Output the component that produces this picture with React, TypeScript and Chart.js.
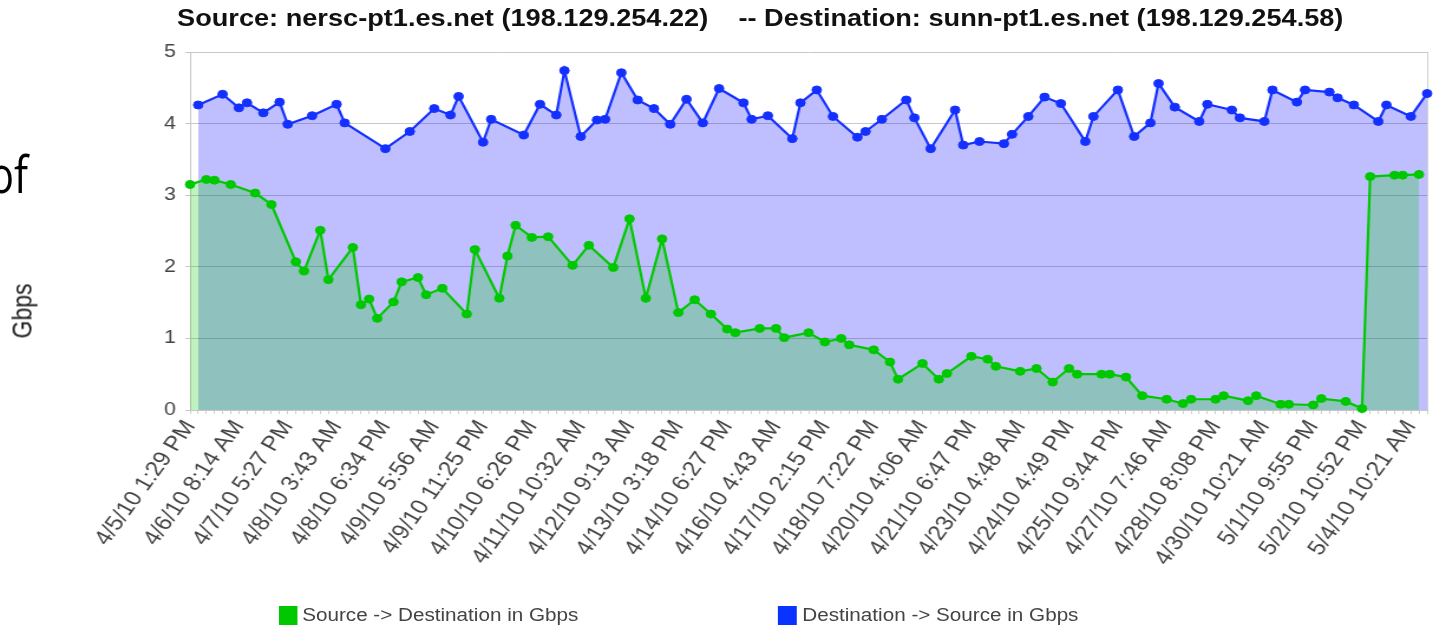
import { useEffect, useRef } from "react";
import { Chart, registerables } from "chart.js";

Chart.register(...registerables);

const tickLabels = [
  "4/5/10 1:29 PM", "4/6/10 8:14 AM", "4/7/10 5:27 PM", "4/8/10 3:43 AM", "4/8/10 6:34 PM",
  "4/9/10 5:56 AM", "4/9/10 11:25 PM", "4/10/10 6:26 PM", "4/11/10 10:32 AM", "4/12/10 9:13 AM",
  "4/13/10 3:18 PM", "4/14/10 6:27 PM", "4/16/10 4:43 AM", "4/17/10 2:15 PM", "4/18/10 7:22 PM",
  "4/20/10 4:06 AM", "4/21/10 6:47 PM", "4/23/10 4:48 AM", "4/24/10 4:49 PM", "4/25/10 9:44 PM",
  "4/27/10 7:46 AM", "4/28/10 8:08 PM", "4/30/10 10:21 AM", "5/1/10 9:55 PM", "5/2/10 10:52 PM",
  "5/4/10 10:21 AM",
];
const categoryCount = 153;
const labelEvery = 6;
const yTicks = [0, 1, 2, 3, 4, 5];

// Source -> Destination (green): category index and Gbps
const greenIdx = [
  0, 2, 3, 5, 8, 10, 13, 14, 16, 17,
  20, 21, 22, 23, 25, 26, 28, 29, 31, 34,
  35, 38, 39, 40, 42, 44, 47, 49, 52, 54,
  56, 58, 60, 62, 64, 66, 67, 70, 72, 73,
  76, 78, 80, 81, 84, 86, 87, 90, 92, 93,
  96, 98, 99, 102, 104, 106, 108, 109, 112, 113,
  115, 117, 120, 122, 123, 126, 127, 130, 131, 134,
  135, 138, 139, 142, 144, 145, 148, 149, 151,
];
const greenVal = [
  3.15, 3.22, 3.21, 3.15, 3.03, 2.87, 2.07, 1.94, 2.51, 1.82,
  2.27, 1.47, 1.55, 1.28, 1.51, 1.79, 1.85, 1.61, 1.70, 1.34,
  2.24, 1.56, 2.15, 2.58, 2.41, 2.42, 2.02, 2.30, 1.99, 2.67,
  1.56, 2.39, 1.36, 1.54, 1.34, 1.13, 1.08, 1.14, 1.14, 1.01,
  1.08, 0.95, 1.00, 0.91, 0.84, 0.67, 0.43, 0.65, 0.43, 0.51,
  0.75, 0.71, 0.61, 0.54, 0.58, 0.39, 0.58, 0.50, 0.50, 0.50,
  0.46, 0.20, 0.15, 0.09, 0.15, 0.15, 0.20, 0.13, 0.20, 0.08,
  0.08, 0.07, 0.16, 0.12, 0.02, 3.26, 3.28, 3.28, 3.29,
];

// Destination -> Source (blue): category index and Gbps
const blueIdx = [
  1, 4, 6, 7, 9, 11, 12, 15, 18, 19,
  24, 27, 30, 32, 33, 36, 37, 41, 43, 45,
  46, 48, 50, 51, 53, 55, 57, 59, 61, 63,
  65, 68, 69, 71, 74, 75, 77, 79, 82, 83,
  85, 88, 89, 91, 94, 95, 97, 100, 101, 103,
  105, 107, 110, 111, 114, 116, 118, 119, 121, 124,
  125, 128, 129, 132, 133, 136, 137, 140, 141, 143,
  146, 147, 150, 152,
];
const blueVal = [
  4.26, 4.41, 4.22, 4.29, 4.15, 4.30, 3.99, 4.11, 4.27, 4.01,
  3.65, 3.89, 4.21, 4.12, 4.38, 3.74, 4.06, 3.84, 4.27, 4.12,
  4.74, 3.82, 4.05, 4.06, 4.71, 4.33, 4.21, 3.99, 4.34, 4.01,
  4.49, 4.29, 4.06, 4.11, 3.79, 4.29, 4.47, 4.10, 3.81, 3.89,
  4.06, 4.33, 4.08, 3.65, 4.19, 3.70, 3.75, 3.72, 3.85, 4.10,
  4.37, 4.28, 3.75, 4.10, 4.47, 3.82, 4.01, 4.56, 4.23, 4.03,
  4.27, 4.19, 4.08, 4.03, 4.47, 4.30, 4.47, 4.44, 4.36, 4.26,
  4.03, 4.26, 4.10, 4.42,
];

const seriesNames = ["Source -> Destination in Gbps", "Destination -> Source in Gbps"];
const title =
  "Source: nersc-pt1.es.net (198.129.254.22)    -- Destination: sunn-pt1.es.net (198.129.254.58)";

const GREEN = "#00c800";
const BLUE = "#1430ff";
const STRETCH = 1.1804;
const W = 1214;
const H = 628;
const FONT = "'Liberation Sans', Arial, Helvetica, sans-serif";

const rightBorder = {
  id: "rightBorder",
  beforeDatasetsDraw(chart: any) {
    const { ctx, chartArea } = chart;
    ctx.save();
    ctx.strokeStyle = "#d0d0d0";
    ctx.lineWidth = 1;
    const x = Math.round(chartArea.right) + 0.5;
    ctx.beginPath();
    ctx.moveTo(x, chartArea.top);
    ctx.lineTo(x, chartArea.bottom);
    ctx.stroke();
    ctx.restore();
  },
};

export default function App() {
  const ref = useRef<HTMLCanvasElement | null>(null);

  useEffect(() => {
    if (!ref.current) return;
    const chart = new Chart(ref.current, {
      type: "line",
      data: {
        datasets: [
          {
            label: seriesNames[0],
            data: greenIdx.map((x, i) => ({ x, y: greenVal[i] })),
            borderColor: GREEN,
            backgroundColor: "rgba(0,204,0,0.25)",
            fill: "origin",
            pointBackgroundColor: GREEN,
            pointBorderColor: GREEN,
            pointRadius: 4,
            pointBorderWidth: 1,
            borderWidth: 2.2,
            tension: 0,
            clip: 10,
          },
          {
            label: seriesNames[1],
            data: blueIdx.map((x, i) => ({ x, y: blueVal[i] })),
            borderColor: BLUE,
            backgroundColor: "rgba(0,0,255,0.25)",
            fill: "origin",
            pointBackgroundColor: BLUE,
            pointBorderColor: BLUE,
            pointRadius: 4,
            pointBorderWidth: 1,
            borderWidth: 2.2,
            tension: 0,
            clip: 10,
          },
        ],
      },
      options: {
        responsive: false,
        animation: false,
        events: [],
        layout: { padding: { left: 0, right: 5, top: 52, bottom: 0 } },
        plugins: {
          legend: { display: false },
          title: { display: false },
          tooltip: { enabled: false },
        },
        scales: {
          x: {
            type: "linear",
            min: 0,
            max: categoryCount - 1,
            afterBuildTicks: (s: any) => {
              s.ticks = Array.from({ length: categoryCount }, (_, i) => ({ value: i }));
            },
            ticks: {
              autoSkip: false,
              minRotation: 58,
              maxRotation: 58,
              padding: 2,
              color: "#444",
              font: { family: FONT, size: 21 },
              callback: (v: any) =>
                v % labelEvery === 0 ? tickLabels[v / labelEvery] ?? "" : "",
            },
            grid: { drawOnChartArea: false, drawTicks: true, tickLength: 4, color: "#cfcfcf" },
            border: { display: true, color: "#c8c8c8" },
            afterFit: (s: any) => {
              s.height = 218;
              s.paddingLeft = 0;
              s.paddingRight = 0;
            },
          },
          y: {
            min: 0,
            max: 5,
            afterBuildTicks: (s: any) => {
              s.ticks = yTicks.map((v) => ({ value: v }));
            },
            ticks: { padding: 8, color: "#444", font: { family: FONT, size: 18 } },
            grid: { color: "#c8c8c8", tickLength: 4 },
            border: { display: true, color: "#c8c8c8" },
            afterFit: (s: any) => {
              s.width = 161;
              s.paddingTop = 0;
              s.paddingBottom = 0;
            },
          },
        },
      },
      plugins: [rightBorder],
    });
    return () => chart.destroy();
  }, []);

  return (
    <>
      <div
        style={{
          position: "fixed",
          left: -11,
          top: 147,
          fontFamily: "'Open Sans', sans-serif",
          fontSize: 52,
          lineHeight: 1,
          color: "#000",
          transform: "scaleX(0.8)",
          transformOrigin: "0 0",
          whiteSpace: "nowrap",
        }}
      >
        of
      </div>
      <div
        style={{
          position: "fixed",
          left: 0,
          top: 0,
          width: W,
          height: H,
          transform: `scaleX(${STRETCH})`,
          transformOrigin: "0 0",
          fontFamily: FONT,
        }}
      >
        <canvas ref={ref} width={W} height={H} style={{ position: "absolute", left: 0, top: 0 }} />
        <div
          style={{
            position: "absolute",
            left: 150,
            top: 7,
            fontSize: 23,
            fontWeight: "bold",
            lineHeight: 1,
            color: "#111",
            whiteSpace: "pre",
          }}
        >
          {title}
        </div>
        <div
          style={{
            position: "absolute",
            left: 18.6,
            top: 311,
            transform: "translate(-50%, -50%) rotate(-90deg)",
            fontSize: 23,
            lineHeight: 1,
            color: "#222",
            whiteSpace: "nowrap",
          }}
        >
          Gbps
        </div>
        <div style={{ position: "absolute", left: 235.6, top: 606, width: 16, height: 19, background: GREEN }} />
        <div
          style={{
            position: "absolute",
            left: 256,
            top: 606,
            height: 19,
            lineHeight: "19px",
            fontSize: 17.5,
            color: "#444",
            whiteSpace: "nowrap",
          }}
        >
          {seriesNames[0]}
        </div>
        <div style={{ position: "absolute", left: 659.3, top: 606, width: 16, height: 19, background: "#0a33ff" }} />
        <div
          style={{
            position: "absolute",
            left: 679.7,
            top: 606,
            height: 19,
            lineHeight: "19px",
            fontSize: 17.5,
            color: "#444",
            whiteSpace: "nowrap",
          }}
        >
          {seriesNames[1]}
        </div>
      </div>
    </>
  );
}
